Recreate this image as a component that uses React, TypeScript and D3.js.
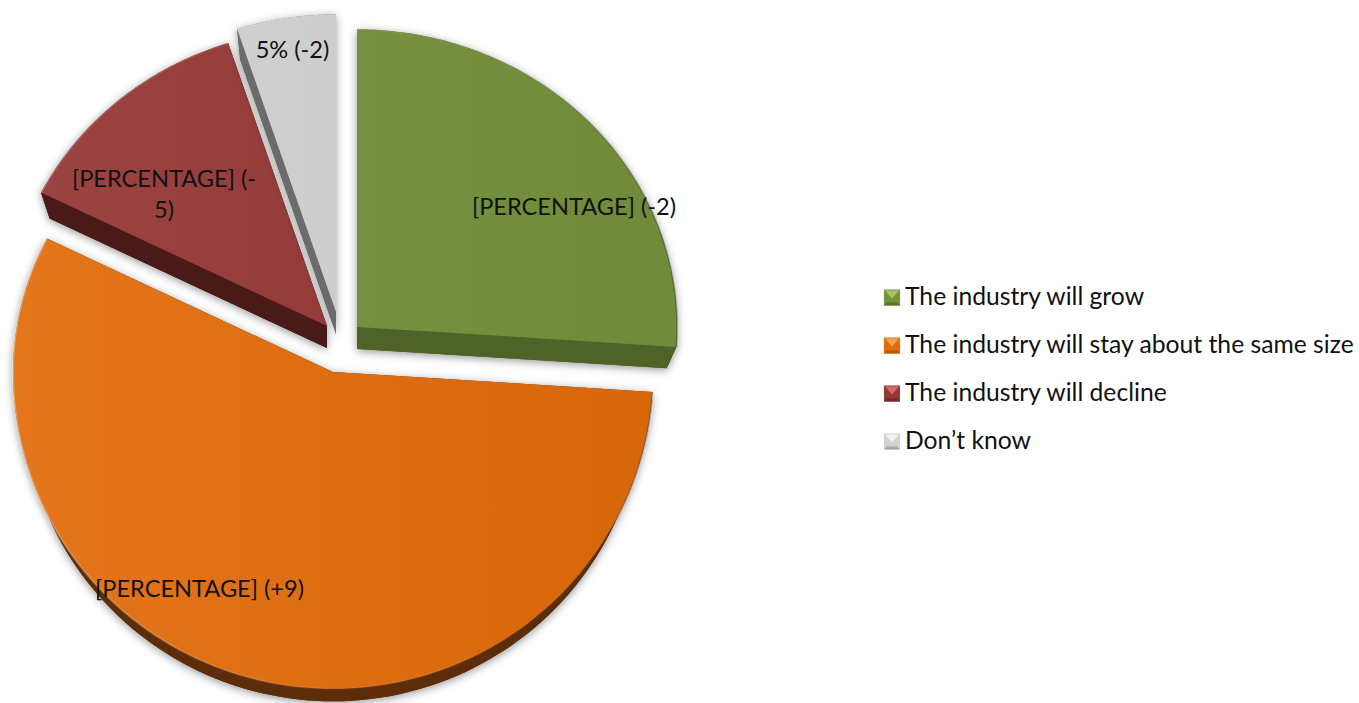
import * as d3 from 'd3'

const categories = [
    'The industry will grow',
    'The industry will stay about the same size',
    'The industry will decline',
    'Don’t know',
]
const shares = [26, 56.4, 12.6, 5]
const sliceLabels = [
    ['[PERCENTAGE] (-2)'],
    ['[PERCENTAGE] (+9)'],
    ['[PERCENTAGE] (-', '5)'],
    ['5% (-2)'],
]

const width = 1359
const height = 703
const fontFamily = 'Lato, "Open Sans", sans-serif'

const topColors = ['#76923c', '#e36c0a', '#953735', '#d2d2d2']
const sideColors = ['#4f6228', '#5c2d08', '#4a1a18', '#6b6b6b']
const lightColors = ['#a6c562', '#f7a34c', '#d96c6a', '#f2f2f2']
const darkColors = ['#5b7230', '#b85608', '#722826', '#a8a8a8']

// exploded slice apex, and where the labels sit
const centers: [number, number][] = [
    [357, 327],
    [333, 372],
    [327, 326],
    [336, 312],
]
const labelPos: [number, number][] = [
    [574, 215],
    [199.5, 597],
    [164, 187],
    [292.5, 58],
]
const legendX = 884
const legendY = d3.scaleLinear().domain([0, 3]).range([297.5, 441.5])

const radius = 320
const depth = 22
const rimShrink = 0.97
const backTilt = 0.93
const frontTilt = 0.99

const arcs = d3
    .pie<number>()
    .value((d) => d)
    .sort(null)(shares)

function project(c: [number, number], a: number, r: number, low: boolean): [number, number] {
    const k = low ? rimShrink : 1
    const tilt = Math.cos(a) >= 0 ? backTilt : frontTilt
    return [
        c[0] + r * k * Math.sin(a),
        c[1] + (low ? depth : 0) - r * k * tilt * Math.cos(a),
    ]
}

const line = d3.line()

function rimPoints(c: [number, number], a0: number, a1: number, low: boolean) {
    return d3.range(0, 121).map((i) => project(c, a0 + ((a1 - a0) * i) / 120, radius, low))
}

export default function App() {
    return (
        <svg
            width={width}
            height={height}
            style={{ position: 'absolute', left: 0, top: 0, background: '#fff' }}
        >
            <defs>
                <linearGradient id="bevel" gradientUnits="userSpaceOnUse" x1={0} x2={700} y1={0} y2={0}>
                    <stop offset="0" stopColor="#fff" stopOpacity={0.3} />
                    <stop offset="0.5" stopColor="#fff" stopOpacity={0.05} />
                    <stop offset="1" stopColor="#000" stopOpacity={0.25} />
                </linearGradient>
                <linearGradient id="sheen" gradientUnits="userSpaceOnUse" x1={0} x2={680} y1={0} y2={0}>
                    <stop offset="0" stopColor="#fff" stopOpacity={0.07} />
                    <stop offset="1" stopColor="#000" stopOpacity={0.05} />
                </linearGradient>
            </defs>

            {arcs.map((arc, i) => {
                const c = centers[i]
                const topRim = rimPoints(c, arc.startAngle, arc.endAngle, false)
                const lowRim = rimPoints(c, arc.startAngle, arc.endAngle, true)
                const apex: [number, number] = [c[0], c[1]]
                const lowApex: [number, number] = [c[0], c[1] + depth]
                const face = line([apex, ...topRim]) + 'Z'
                const floor = line([lowApex, ...lowRim]) + 'Z'
                const wall = line([...topRim, ...[...lowRim].reverse()]) + 'Z'
                const cutStart = line([apex, topRim[0], lowRim[0], lowApex]) + 'Z'
                const cutEnd = line([apex, topRim[120], lowRim[120], lowApex]) + 'Z'
                return (
                    <g key={categories[i]} style={{ filter: 'drop-shadow(0 2px 4px rgba(0,0,0,0.4))' }}>
                        <path d={floor} fill={sideColors[i]} />
                        <path d={wall} fill={sideColors[i]} />
                        <path d={cutStart} fill={sideColors[i]} />
                        <path d={cutEnd} fill={sideColors[i]} />
                        <path d={face} fill={topColors[i]} />
                        <path d={face} fill="url(#sheen)" />
                        <path d={line(topRim) ?? undefined} fill="none" stroke="url(#bevel)" strokeWidth={2} />
                    </g>
                )
            })}

            {sliceLabels.map((rows, i) => (
                <text
                    key={i}
                    textAnchor="middle"
                    fontFamily={fontFamily}
                    fontSize={23.6}
                    fill="#111"
                >
                    {rows.map((row, j) => (
                        <tspan key={row} x={labelPos[i][0]} y={labelPos[i][1] + j * 31}>
                            {row}
                        </tspan>
                    ))}
                </text>
            ))}

            {categories.map((name, i) => {
                const y = legendY(i)
                const s = 8
                const cx = legendX + s
                const poly = (pts: [number, number][]) => line(pts) + 'Z'
                return (
                    <g key={name}>
                        <rect x={cx - s} y={y - s} width={s * 2} height={s * 2} fill={topColors[i]} />
                        <path
                            d={poly([
                                [cx - s + 1, y - s + 1],
                                [cx + s - 1, y - s + 1],
                                [cx, y + 1],
                            ])}
                            fill={lightColors[i]}
                        />
                        <path
                            d={poly([
                                [cx - s, y + s],
                                [cx + s, y + s],
                                [cx + s - 3, y + s - 3],
                                [cx - s + 3, y + s - 3],
                            ])}
                            fill={darkColors[i]}
                        />
                        <text
                            x={905}
                            y={y + 7}
                            fontFamily={fontFamily}
                            fontSize={24.7}
                            fill="#111"
                        >
                            {name}
                        </text>
                    </g>
                )
            })}
        </svg>
    )
}
